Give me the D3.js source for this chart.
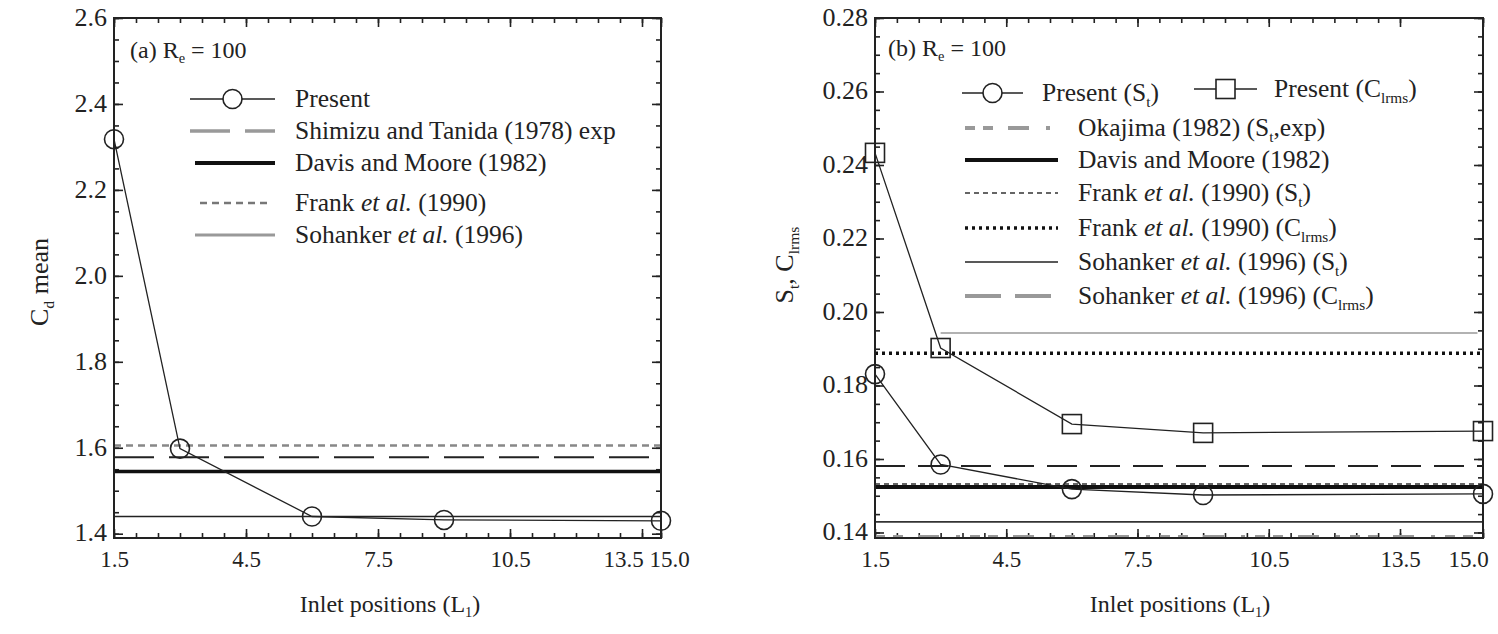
<!DOCTYPE html>
<html><head><meta charset="utf-8">
<script src="https://cdn.jsdelivr.net/npm/d3@7"></script>
<style>body{margin:0;background:#fff}</style>
</head><body>
<svg id="c" width="1498" height="634"></svg>
<script>
// ---------------- DATA ----------------
const inletPositions = [1.5, 3, 6, 9, 15];
const xMajorTicks = [1.5, 4.5, 7.5, 10.5, 13.5, 15];
const xTickLabels = ["1.5", "4.5", "7.5", "10.5", "13.5", "15.0"];

// (a) mean drag coefficient
const cdPresent = [2.318, 1.598, 1.44, 1.432, 1.43];
const cdRefLabels = ["Shimizu and Tanida (1978) exp", "Davis and Moore (1982)", "Frank et al. (1990)", "Sohanker et al. (1996)"];
const cdRefValues = [1.578, 1.545, 1.605, 1.44];
const cdYTicks = [1.4, 1.6, 1.8, 2.0, 2.2, 2.4, 2.6];
const cdYTickLabels = ["1.4", "1.6", "1.8", "2.0", "2.2", "2.4", "2.6"];

// (b) Strouhal number and rms lift coefficient
const stPresent = [0.1831, 0.1585, 0.1518, 0.1502, 0.1505];
const clrmsPresent = [0.2433, 0.1902, 0.1695, 0.1671, 0.1676];
const stRefLabels = ["Okajima (1982) (St,exp)", "Davis and Moore (1982)", "Frank et al. (1990) (St)", "Frank et al. (1990) (Clrms)", "Sohanker et al. (1996) (St)", "Sohanker et al. (1996) (Clrms)"];
const stRefValues = [0.1388, 0.1524, 0.1532, 0.1888, 0.1429, 0.1581];
const extraLineValue = 0.1943;
const extraLineRange = [3, 14.9];
const stYTicks = [0.14, 0.16, 0.18, 0.20, 0.22, 0.24, 0.26, 0.28];
const stYTickLabels = ["0.14", "0.16", "0.18", "0.20", "0.22", "0.24", "0.26", "0.28"];

// ---------------- STYLE ----------------
const FONT = "'Liberation Serif','Times New Roman',serif";
const svg = d3.select("#c");

function rich(textSel, segs, fs) {
  let sub = false;
  segs.forEach(([t, s]) => {
    const ts = textSel.append("tspan").text(t);
    if (s === "i") ts.attr("font-style", "italic");
    if (s === "s") { ts.attr("font-size", fs * 0.6).attr("dy", fs * 0.22); sub = true; }
    else if (sub) { ts.attr("dy", -fs * 0.22); sub = false; }
  });
}
function segsFor(label) {
  const out = [];
  const re = /(et al\.)|(\(St,exp\))|(\(St\))|(\(Clrms\))/g;
  let last = 0, m;
  while ((m = re.exec(label)) !== null) {
    if (m.index > last) out.push([label.slice(last, m.index), ""]);
    if (m[1]) out.push(["et al.", "i"]);
    else if (m[2]) { out.push(["(S", ""]); out.push(["t", "s"]); out.push([",exp)", ""]); }
    else if (m[3]) { out.push(["(S", ""]); out.push(["t", "s"]); out.push([")", ""]); }
    else if (m[4]) { out.push(["(C", ""]); out.push(["lrms", "s"]); out.push([")", ""]); }
    last = re.lastIndex;
  }
  if (last < label.length) out.push([label.slice(last), ""]);
  return out;
}

const LEG_FS = 25.5;

function panel(cfg) {
  const g = svg.append("g");
  const x = d3.scaleLinear().domain([1.5, 13.5, 15]).range(cfg.xr);
  const y = d3.scaleLinear().domain(cfg.yd).range([538, 18]);
  const [x0, x1] = [cfg.xr[0], cfg.xr[2]];
  const [yb, yt] = [538, 18];
  const xMinor = d3.range(1.5, 13.51, 0.5).concat([15]);
  const yMinor = d3.range(cfg.yTicks[0], cfg.yTicks[cfg.yTicks.length - 1] + 1e-9, cfg.yMinorStep);

  const ax = (gen, tr) => { const a = g.append("g").attr("transform", tr).call(gen); a.select(".domain").remove(); a.selectAll("line").attr("stroke", "#222").attr("stroke-width", 1.6); return a; };
  ax(d3.axisBottom(x).tickValues(xMinor).tickSize(-5).tickFormat(""), `translate(0,${yb})`);
  const bx = ax(d3.axisBottom(x).tickValues(xMajorTicks).tickSize(-9).tickPadding(13).tickFormat((d, i) => xTickLabels[i]), `translate(0,${yb})`);
  bx.selectAll("text").attr("font-family", FONT).attr("font-size", 23).attr("fill", "#222")
    .attr("dx", (d, i) => i === 4 ? cfg.dx135 : (i === 5 ? cfg.dx15 : 0));
  ax(d3.axisTop(x).tickValues(xMinor).tickSize(-5).tickFormat(""), `translate(0,${yt})`);
  ax(d3.axisTop(x).tickValues(xMajorTicks).tickSize(-9).tickFormat(""), `translate(0,${yt})`);
  ax(d3.axisLeft(y).tickValues(yMinor).tickSize(-5).tickFormat(""), `translate(${x0},0)`);
  const ly = ax(d3.axisLeft(y).tickValues(cfg.yTicks).tickSize(-9).tickPadding(7).tickFormat((d, i) => cfg.yLabels[i]), `translate(${x0},0)`);
  ly.selectAll("text").attr("font-family", FONT).attr("font-size", 26).attr("fill", "#222").attr("dy", "0.28em");
  ax(d3.axisRight(y).tickValues(yMinor).tickSize(-5).tickFormat(""), `translate(${x1},0)`);
  ax(d3.axisRight(y).tickValues(cfg.yTicks).tickSize(-9).tickFormat(""), `translate(${x1},0)`);

  // reference lines
  cfg.refs.forEach(r => {
    const xs = r.range || [1.5, 15];
    g.append("line").attr("x1", x(xs[0])).attr("x2", x(xs[1])).attr("y1", y(r.v)).attr("y2", y(r.v))
      .attr("stroke", r.st.c).attr("stroke-width", r.st.w).attr("stroke-dasharray", r.st.d || null);
  });

  // present series
  const line = d3.line().x((d, i) => x(inletPositions[i])).y(d => y(d));
  cfg.series.forEach(s => {
    g.append("path").attr("d", line(s.vals)).attr("fill", "none").attr("stroke", "#222").attr("stroke-width", 1.3);
    s.vals.forEach((v, i) => {
      const cx = x(inletPositions[i]), cy = y(v);
      if (s.sym === "circle") g.append("circle").attr("cx", cx).attr("cy", cy).attr("r", 9.5).attr("fill", "none").attr("stroke", "#222").attr("stroke-width", 1.6);
      else g.append("rect").attr("x", cx - 9.5).attr("y", cy - 9.5).attr("width", 19).attr("height", 19).attr("fill", "none").attr("stroke", "#222").attr("stroke-width", 1.6);
    });
  });

  // frame
  g.append("rect").attr("x", x0).attr("y", yt).attr("width", x1 - x0).attr("height", yb - yt)
    .attr("fill", "none").attr("stroke", "#222").attr("stroke-width", 2);

  // panel label
  const pl = g.append("text").attr("x", cfg.lab[0]).attr("y", cfg.lab[1]).attr("font-family", FONT).attr("font-size", 24).attr("fill", "#222");
  rich(pl, cfg.labSegs, 24);

  // axis titles
  const xt = g.append("text").attr("x", cfg.xtitle[0]).attr("y", cfg.xtitle[1]).attr("text-anchor", "middle").attr("font-family", FONT).attr("font-size", 24).attr("fill", "#222");
  rich(xt, [["Inlet positions (L", ""], ["1", "s"], [")", ""]], 24);
  const yt2 = g.append("text").attr("transform", `translate(${cfg.ytitle[0]},${cfg.ytitle[1]}) rotate(-90)`).attr("text-anchor", "middle").attr("font-family", FONT).attr("font-size", 26).attr("fill", "#222");
  rich(yt2, cfg.ytitleSegs, 26);

  // legend
  cfg.legend.forEach(L => {
    if (L.sym) {
      g.append("line").attr("x1", L.x1).attr("x2", L.x2).attr("y1", L.y).attr("y2", L.y).attr("stroke", "#222").attr("stroke-width", 1.6);
      const cx = (L.x1 + L.x2) / 2;
      if (L.sym === "circle") g.append("circle").attr("cx", cx).attr("cy", L.y).attr("r", 9.5).attr("fill", "#fff").attr("stroke", "#222").attr("stroke-width", 1.6);
      else g.append("rect").attr("x", cx - 9.5).attr("y", L.y - 9.5).attr("width", 19).attr("height", 19).attr("fill", "#fff").attr("stroke", "#222").attr("stroke-width", 1.6);
    } else {
      g.append("line").attr("x1", L.x1).attr("x2", L.x2).attr("y1", L.y).attr("y2", L.y)
        .attr("stroke", L.st.c).attr("stroke-width", L.st.w).attr("stroke-dasharray", L.st.d || null);
    }
    const t = g.append("text").attr("x", L.tx).attr("y", L.y + 8).attr("font-family", FONT).attr("font-size", LEG_FS).attr("fill", "#222");
    rich(t, L.segs, LEG_FS);
  });
}

// ---- panel (a)
const cdPlotStyles = [{c: "#222", w: 2, d: "40,15"}, {c: "#111", w: 3.5}, {c: "#888", w: 2.5, d: "7,5"}, {c: "#222", w: 1.5}];
const cdLegStyles = [{c: "#999", w: 3.5, d: "40,15"}, {c: "#111", w: 4}, {c: "#777", w: 2.5, d: "7,5"}, {c: "#999", w: 3}];
const cdLegRows = [131, 163, 203, 235];
const cdLegX = [[190, 275], [195, 275], [200, 272], [195, 275]];
panel({
  xr: [114, 642, 661], yd: [1.39, 2.6], yTicks: cdYTicks, yLabels: cdYTickLabels, yMinorStep: 0.05,
  dx135: -19, dx15: 8,
  refs: cdRefValues.map((v, i) => ({v, st: cdPlotStyles[i]})),
  series: [{vals: cdPresent, sym: "circle"}],
  lab: [130, 58], labSegs: [["(a) R", ""], ["e", "s"], [" = 100", ""]],
  xtitle: [390, 612], ytitle: [48, 282], ytitleSegs: [["C", ""], ["d", "s"], [" mean", ""]],
  legend: [{sym: "circle", x1: 190, x2: 275, y: 99, tx: 295, segs: [["Present", ""]]}]
    .concat(cdRefLabels.map((lab, i) => ({st: cdLegStyles[i], x1: cdLegX[i][0], x2: cdLegX[i][1], y: cdLegRows[i], tx: 295, segs: segsFor(lab)})))
});

// ---- panel (b)
const stPlotStyles = [{c: "#999", w: 4, d: "10,8,10,15,21,17,4,10"}, {c: "#111", w: 4}, {c: "#333", w: 1.5, d: "5,4"}, {c: "#111", w: 3.5, d: "3,4"}, {c: "#333", w: 1.6}, {c: "#222", w: 2, d: "30,13"}];
const stLegStyles = [{c: "#999", w: 4, d: "10,8,10,15,21,17,4,10"}, {c: "#111", w: 4}, {c: "#333", w: 1.5, d: "5,4"}, {c: "#111", w: 3.5, d: "3,4"}, {c: "#222", w: 1.6}, {c: "#999", w: 4, d: "36,14"}];
const stLegRows = [128, 160, 193, 228, 262, 296];
panel({
  xr: [875, 1400, 1483], yd: [0.1385, 0.28], yTicks: stYTicks, yLabels: stYTickLabels, yMinorStep: 0.005,
  dx135: 0, dx15: -15,
  refs: stRefValues.map((v, i) => ({v, st: stPlotStyles[i]})).concat([{v: extraLineValue, range: extraLineRange, st: {c: "#999", w: 1.6}}]),
  series: [{vals: stPresent, sym: "circle"}, {vals: clrmsPresent, sym: "square"}],
  lab: [888, 56], labSegs: [["(b) R", ""], ["e", "s"], [" = 100", ""]],
  xtitle: [1180, 612], ytitle: [793, 265], ytitleSegs: [["S", ""], ["t", "s"], [", C", ""], ["lrms", "s"]],
  legend: [{sym: "circle", x1: 962, x2: 1023, y: 93, tx: 1042, segs: [["Present (S", ""], ["t", "s"], [")", ""]]},
           {sym: "square", x1: 1194, x2: 1257, y: 89, tx: 1274, segs: [["Present (C", ""], ["lrms", "s"], [")", ""]]}]
    .concat(stRefLabels.map((lab, i) => ({st: stLegStyles[i], x1: 965, x2: 1058, y: stLegRows[i], tx: 1078, segs: segsFor(lab)})))
});
</script>
</body></html>
